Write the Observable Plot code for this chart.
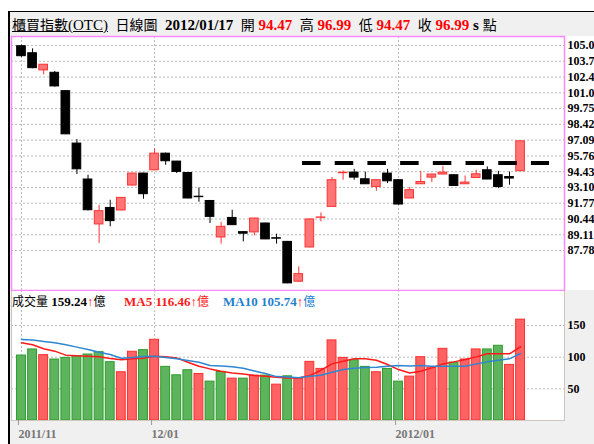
<!DOCTYPE html>
<html><head><meta charset="utf-8">
<script src="https://cdn.jsdelivr.net/npm/d3@7"></script>
<script src="https://cdn.jsdelivr.net/npm/@observablehq/plot@0.6"></script>
<style>
html,body{margin:0;padding:0;width:594px;height:444px;overflow:hidden;background:#fff;}
#bg{position:absolute;left:8px;top:11px;width:586px;height:433px;background:#f0f0f0;border-left:2px solid #000;border-top:1px solid #000;}
#whiteTop{position:absolute;left:11px;top:36px;width:583px;height:254px;background:#fff;}
#header{position:absolute;left:12px;top:12px;height:24px;line-height:24px;white-space:nowrap;font-family:'Liberation Serif','Noto Sans CJK TC',serif;font-size:15px;color:#000;}
#header .b{font-weight:bold;}
#header .r{color:#ff0000;font-weight:bold;}
#header .cjk{font-family:'Noto Sans CJK TC',sans-serif;font-size:14px;}
#vol,#price{position:absolute;left:0;}
#vol{top:290px;}
#price{top:35px;}
.leg{position:absolute;top:293px;white-space:nowrap;font-family:'Liberation Serif','Noto Sans CJK TC',serif;font-size:13px;line-height:16px;}
.leg .b{font-weight:bold;}
.leg .cjk{font-family:'Noto Sans CJK TC',sans-serif;font-size:12px;}
</style></head>
<body>
<div id="bg"></div>
<div id="whiteTop"></div>
<div id="header"><span class="cjk" style="text-decoration:underline">櫃買指數</span><span style="text-decoration:underline">(OTC)</span>&nbsp; <span class="cjk">日線圖</span>&nbsp; <span class="b">2012/01/17</span>&nbsp; <span class="cjk">開</span> <span class="r">94.47</span>&nbsp; <span class="cjk">高</span> <span class="r">96.99</span>&nbsp; <span class="cjk">低</span> <span class="r">94.47</span>&nbsp; <span class="cjk">收</span> <span class="r">96.99</span> <span class="b">s</span> <span class="cjk">點</span></div>
<div id="vol"></div>
<div id="price"></div>
<div class="leg" style="left:12px"><span class="cjk">成交量</span> <span class="b">159.24</span><span class="b" style="color:#ff0000">↑</span><span class="cjk">億</span></div>
<div class="leg" style="left:124px;color:#ff1a1a"><span class="b">MA5 116.46</span><span class="b" style="color:#ff0000">↑</span><span class="cjk">億</span></div>
<div class="leg" style="left:223px;color:#1f7fcf"><span class="b">MA10 105.74</span><span class="b" style="color:#ff0000">↑</span><span class="cjk">億</span></div>
<script>
// ---- data (2011/11/15 .. 2012/01/17, trading days) ----
const openV  = [105.01,104.42,102.97,102.77,101.22,96.80,93.77,89.98,91.37,91.16,93.26,94.27,94.55,95.95,95.28,94.32,92.32,91.96,88.88,90.53,89.33,89.31,90.06,88.82,88.51,85.15,88.04,90.54,91.46,94.30,94.35,93.79,93.14,94.27,93.71,92.17,93.37,93.93,94.19,94.13,93.37,93.90,94.55,94.13,93.98,94.47];
const highV  = [105.10,104.79,103.45,102.88,101.25,97.13,94.13,91.60,92.02,92.25,94.30,94.30,96.34,96.00,95.30,94.35,93.05,92.00,90.15,91.18,89.35,90.50,90.08,89.16,88.55,86.41,90.45,90.95,93.93,94.49,94.63,94.40,93.75,94.63,93.75,93.09,94.46,94.22,94.88,94.15,94.07,94.55,94.83,94.46,94.40,96.99];
const lowV   = [104.08,103.11,102.60,101.56,97.55,94.19,91.12,88.38,89.78,91.12,93.22,92.11,94.50,94.97,94.27,92.14,91.85,90.06,88.32,89.90,88.51,89.02,88.70,88.32,84.98,85.12,88.00,90.20,91.42,93.71,93.71,93.35,92.78,93.43,91.62,92.15,93.35,93.51,94.17,93.21,93.35,93.88,93.75,93.00,93.29,94.47];
const closeV = [104.17,103.16,103.45,101.62,97.58,94.63,91.18,91.10,90.26,92.22,94.27,92.53,95.95,95.31,94.41,92.17,92.28,90.62,89.78,89.92,89.20,90.48,88.72,88.78,85.01,85.79,90.40,90.57,93.71,94.34,93.93,93.37,93.71,93.62,91.66,92.87,93.56,94.19,94.35,93.23,93.51,94.21,93.77,93.14,93.85,96.99];
const volumeV = [102.6,112.2,103.2,96.3,98.9,101.6,104.2,107.9,92.1,76.2,108.5,111.1,127.5,84.7,71.4,79.4,73.5,61.4,76.7,66.1,66.1,70.9,70.9,56.6,69.8,65.6,92.6,81.5,126.5,98.9,95.2,84.7,76.2,81.5,61.4,69.3,100,83.6,113.2,91.5,96.3,112.2,112.2,118,87.8,159.24];
const ma5V  = [122.8,119.6,113.2,109.5,103.2,102.1,101.6,100.5,97.9,95.8,97.4,98.4,101.6,100.5,98.9,92.1,85.7,81.5,77.8,75.1,73.5,70.9,69.8,68.3,67.2,67.2,70.9,79.4,89.4,93.7,97.4,97.4,95.2,88.4,80.4,75.1,77.8,83.1,89.4,92.6,96.3,100.5,105.3,105.3,105.3,116.46];
const ma10V = [128,127,124.9,122.8,119.6,115.9,112.2,107.9,104.2,98.4,99.5,101.1,101.6,99.5,97.4,94.7,92.1,86.8,86.2,84.7,82.5,78.3,74.1,69.3,68.8,67.7,69.8,71.4,76.2,80.4,82.5,83.6,84.1,85.7,86.8,86.2,86.8,85.7,85.7,85.7,85.7,89.4,92.6,95.2,97.4,105.74];
const priceTicks = [105.07,103.74,102.41,101.08,99.75,98.42,97.09,95.76,94.43,93.10,91.77,90.44,89.11,87.78];
const priceTickLabels = ["105.0","103.7","102.4","101.0","99.75","98.42","97.09","95.76","94.43","93.10","91.77","90.44","89.11","87.78"];
const volTicks = [50,100,150];
const dateTickIdx = [0,12,34];
const dateTickLabels = ["2011/11","12/01","2012/01"];
const resistLevel = 95.16, resistFrom = 25.34, resistTo = 47.61;

const RED = "#ff3333", REDFILL = "#ff7474", GREEN = "#5db45d", GREENSTROKE = "#2c9c2c";
const xDomain = [-0.9, 48.96];
const grid = {stroke:"#b8b8b8", strokeDasharray:"2,2", strokeWidth:1};
const candles = closeV.map((c,i)=>({i, o:openV[i], h:highV[i], l:lowV[i], c}));
const isUp = d => d.c >= d.o;
const vols = volumeV.map((v,i)=>({i, v, up: i>0 ? closeV[i] > closeV[i-1] : false}));
const ma5 = ma5V.map((v,i)=>({i,v}));
const ma10 = ma10V.map((v,i)=>({i,v}));
const font = {fontFamily:"'Liberation Serif', serif", fontSize:"12px", background:"transparent"};

const price = Plot.plot({
  width:594, height:256, marginLeft:11, marginRight:30, marginTop:1, marginBottom:1,
  style: font,
  x:{type:"linear", domain:xDomain, axis:null},
  y:{domain:[84.41,105.83], axis:null},
  color:{type:"identity"},
  marks:[
    Plot.ruleY(priceTicks, grid),
    Plot.ruleX(dateTickIdx, grid),
    Plot.ruleX(candles, {x:"i", y1:"l", y2:"h", stroke: d=>isUp(d)?RED:"#000", strokeWidth:1}),
    Plot.rect(candles, {x1:d=>d.i-0.39, x2:d=>d.i+0.39, y1:d=>Math.min(d.o,d.c), y2:d=>Math.max(d.o,d.c),
      fill:d=>isUp(d)?REDFILL:"#000", stroke:d=>isUp(d)?RED:"#000", strokeWidth:1}),
    Plot.ruleY([{y:resistLevel, a:resistFrom, b:resistTo}], {y:"y", x1:"a", x2:"b", stroke:"#000", strokeWidth:4, strokeDasharray:"18.5,14.2"}),
    Plot.frame({stroke:"#ff88ff", strokeWidth:1.5}),
    Plot.axisY({anchor:"right", ticks:priceTicks, tickFormat:d=>priceTickLabels[priceTicks.indexOf(d)], tickSize:0, tickPadding:3, fontWeight:"bold", fill:"#000", label:null})
  ]
});
document.getElementById("price").append(price);

const vol = Plot.plot({
  width:594, height:154, marginLeft:11, marginRight:30, marginTop:0, marginBottom:24,
  style: font,
  x:{type:"linear", domain:xDomain, axis:null},
  y:{domain:[0,205.3], axis:null},
  color:{type:"identity"},
  marks:[
    Plot.frame({fill:"#fff"}),
    Plot.ruleY(volTicks, grid),
    Plot.ruleX(dateTickIdx, grid),
    Plot.rect(vols, {x1:d=>d.i-0.4, x2:d=>d.i+0.4, y1:0, y2:"v", fill:d=>d.up?"#ff6262":GREEN, stroke:d=>d.up?"#ff2e2e":GREENSTROKE, strokeWidth:1}),
    Plot.line(ma5, {x:"i", y:"v", stroke:"#ff1a1a", strokeWidth:1.5}),
    Plot.line(ma10, {x:"i", y:"v", stroke:"#2f86d0", strokeWidth:1.5}),
    Plot.frame({stroke:"#cfc6bd"}),
    Plot.axisY({anchor:"right", ticks:volTicks, tickSize:0, tickPadding:3, fontWeight:"bold", fill:"#000", label:null}),
    Plot.axisX({anchor:"bottom", ticks:dateTickIdx, tickFormat:d=>dateTickLabels[dateTickIdx.indexOf(d)], tickSize:5, tickPadding:4, textAnchor:"start", dx:-3, stroke:"#999", fill:"#777", fontWeight:"bold", label:null})
  ]
});
document.getElementById("vol").append(vol);
</script>
</body></html>
